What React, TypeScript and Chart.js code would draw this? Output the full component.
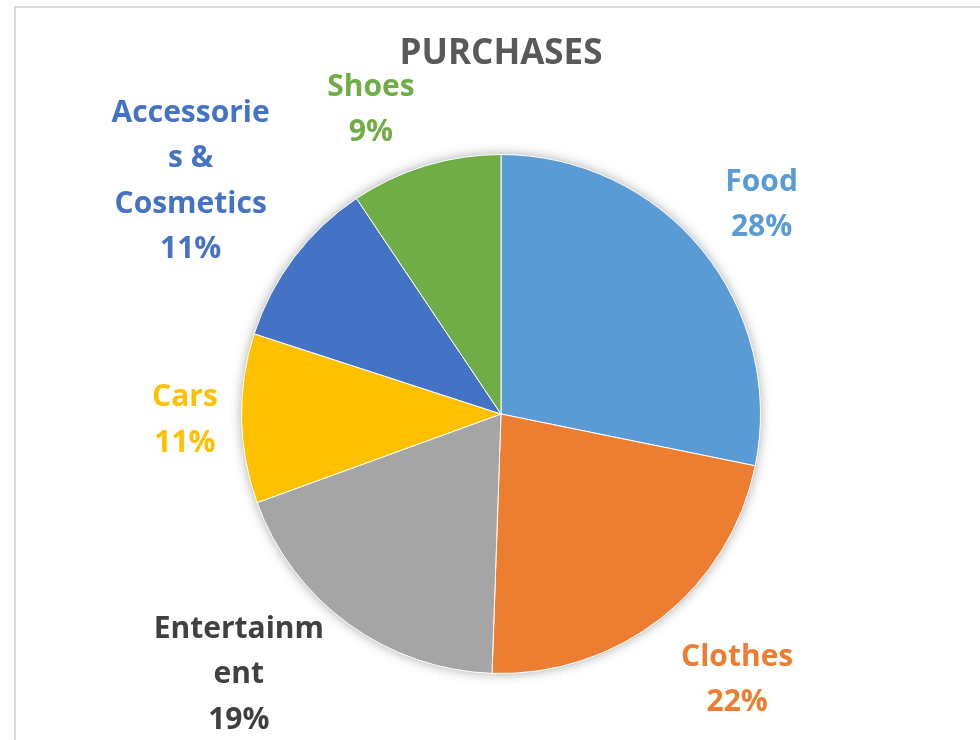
import React, { useEffect, useRef } from "react";
import { Chart, registerables } from "chart.js";

Chart.register(...registerables);

const chartTitle = "PURCHASES";
const categories = ["Food", "Clothes", "Entertainment", "Cars", "Accessories & Cosmetics", "Shoes"];
const shares = [28.2, 22.35, 18.9, 10.55, 10.6, 9.4];

const sliceColors = ["#5B9BD5", "#ED7D31", "#A5A5A5", "#FFC000", "#4472C4", "#70AD47"];
const labelColors = ["#5B9BD5", "#ED7D31", "#404040", "#FFC000", "#4472C4", "#70AD47"];
// label placement relative to each slice: distance (in radii) and angle shift (deg) from slice middle
const labelPlacement = [
  { dist: 1.293, shift: 0.2 },
  { dist: 1.364, shift: -3.6 },
  { dist: 1.419, shift: 9.4 },
  { dist: 1.218, shift: 0.2 },
  { dist: 1.499, shift: 0 },
  { dist: 1.282, shift: -6.1 },
];

const FONT = "'Open Sans', 'DejaVu Sans', sans-serif";
const LABEL_SIZE = 30;
const LINE_GAP = 45.5;
const WRAP_CHARS = 10;

function wrap(text: string, maxChars: number): string[] {
  const words = text.split(" ");
  const lines: string[] = [];
  let cur = "";
  for (let w of words) {
    while (w.length > maxChars) {
      if (cur) {
        lines.push(cur);
        cur = "";
      }
      lines.push(w.slice(0, maxChars));
      w = w.slice(maxChars);
    }
    if (!cur) cur = w;
    else if ((cur + " " + w).length <= maxChars) cur += " " + w;
    else {
      lines.push(cur);
      cur = w;
    }
  }
  if (cur) lines.push(cur);
  return lines;
}

const labelPlugin = {
  id: "sliceLabels",
  beforeDatasetsDraw(chart: any) {
    const meta = chart.getDatasetMeta(0);
    const arc = meta.data[0];
    if (!arc) return;
    const { x, y, outerRadius } = arc.getProps(["x", "y", "outerRadius"], true);
    const ctx = chart.ctx;
    ctx.save();
    ctx.shadowColor = "rgba(0,0,0,0.35)";
    ctx.shadowBlur = 12;
    ctx.fillStyle = "#ffffff";
    ctx.beginPath();
    ctx.arc(x, y, outerRadius, 0, Math.PI * 2);
    ctx.fill();
    ctx.restore();
  },
  afterDatasetsDraw(chart: any) {
    const ctx = chart.ctx;
    const meta = chart.getDatasetMeta(0);
    const data: number[] = chart.data.datasets[0].data;
    const total = data.reduce((a, b) => a + b, 0);
    const cap = LABEL_SIZE * 0.714;
    ctx.save();
    ctx.font = `bold ${LABEL_SIZE}px ${FONT}`;
    ctx.textAlign = "center";
    ctx.textBaseline = "alphabetic";
    meta.data.forEach((el: any, i: number) => {
      const p = el.getProps(["x", "y", "startAngle", "endAngle", "outerRadius"], true);
      const place = labelPlacement[i];
      const a = (p.startAngle + p.endAngle) / 2 + (place.shift * Math.PI) / 180;
      const cx = p.x + Math.cos(a) * p.outerRadius * place.dist;
      const cy = p.y + Math.sin(a) * p.outerRadius * place.dist;
      const lines = [...wrap(chart.data.labels[i], WRAP_CHARS), Math.round((data[i] / total) * 100) + "%"];
      const y0 = cy - ((lines.length - 1) * LINE_GAP - cap) / 2;
      ctx.fillStyle = labelColors[i];
      lines.forEach((t, k) => ctx.fillText(t, cx, y0 + k * LINE_GAP));
    });
    ctx.restore();
  },
};

export default function App() {
  const ref = useRef<HTMLCanvasElement>(null);
  useEffect(() => {
    if (!ref.current) return;
    const chart = new Chart(ref.current, {
      type: "pie",
      data: {
        labels: categories,
        datasets: [
          {
            data: shares,
            backgroundColor: sliceColors,
            borderColor: "#ffffff",
            borderWidth: 1,
            hoverOffset: 0,
            offset: 0,
          },
        ],
      },
      options: {
        responsive: false,
        animation: false,
        events: [],
        layout: { padding: { top: 0, left: 225, right: 219, bottom: 66 } },
        plugins: {
          legend: { display: false },
          tooltip: { enabled: false },
          title: {
            display: true,
            text: chartTitle,
            color: "#595959",
            font: { family: FONT, size: 35, weight: "bold", lineHeight: 1.2 },
            padding: { top: 25.5, bottom: 78.5 },
          },
        },
      } as any,
      plugins: [labelPlugin],
    });
    return () => chart.destroy();
  }, []);

  return (
    <div style={{ position: "fixed", inset: 0, overflow: "hidden", background: "#ffffff" }}>
      <div
        style={{
          position: "absolute",
          left: 14,
          top: 6,
          width: 1100,
          height: 900,
          border: "2px solid #d9d9d9",
          boxSizing: "content-box",
        }}
      >
        <canvas
          ref={ref}
          width={964}
          height={732}
          style={{ position: "absolute", left: 0, top: 0, width: 964, height: 732 }}
        />
      </div>
    </div>
  );
}
